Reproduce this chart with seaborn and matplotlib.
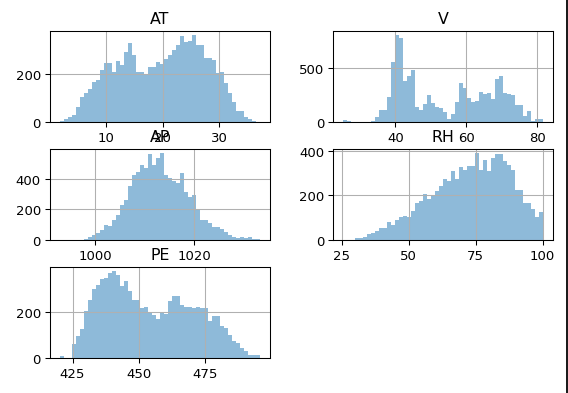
import numpy as np
import matplotlib
matplotlib.use("Agg")
import matplotlib.pyplot as plt
import seaborn as sns

# Histogram counts (50 bins per column)
at_range = (1.81, 37.11)
at_counts = [5, 14, 20, 30, 65, 103, 120, 140, 170, 176,
             217, 246, 246, 211, 258, 239, 294, 333, 280, 208,
             208, 197, 232, 232, 253, 244, 264, 280, 301, 322,
             360, 336, 339, 364, 322, 322, 267, 267, 260, 204,
             208, 163, 121, 82, 47, 47, 22, 12, 4, 2]

v_range = (25.36, 81.56)
v_counts = [18, 12, 0, 0, 0, 0, 0, 12, 45, 112,
            112, 236, 560, 803, 779, 376, 424, 482, 142, 112,
            170, 248, 176, 139, 127, 97, 30, 73, 182, 360,
            315, 224, 188, 197, 279, 255, 264, 212, 400, 424,
            270, 255, 248, 158, 158, 52, 106, 12, 24, 30]

ap_range = (992.89, 1033.30)
ap_counts = [0, 0, 0, 0, 0, 1, 9, 18, 36, 49,
             67, 100, 89, 134, 161, 228, 264, 351, 429, 447,
             489, 469, 563, 492, 536, 568, 429, 407, 389, 373,
             440, 317, 284, 295, 206, 134, 134, 112, 83, 83,
             72, 54, 31, 22, 13, 20, 13, 18, 9, 7]

rh_range = (25.56, 100.16)
rh_counts = [2, 1, 1, 9, 9, 12, 27, 33, 41, 52,
             56, 82, 68, 91, 102, 109, 102, 130, 167, 173,
             205, 185, 203, 218, 241, 273, 265, 309, 273, 329,
             314, 333, 333, 389, 314, 361, 309, 370, 388, 388,
             355, 336, 314, 226, 226, 167, 167, 139, 102, 124]

pe_range = (420.26, 495.76)
pe_counts = [7, 1, 0, 62, 94, 127, 206, 253, 302, 317,
             342, 350, 371, 377, 361, 314, 334, 292, 253, 253,
             216, 220, 199, 187, 170, 196, 190, 246, 268, 268,
             230, 223, 223, 219, 223, 219, 216, 163, 181, 181,
             138, 129, 102, 75, 66, 43, 29, 14, 14, 12]

# tick labels shown in the reference
xticks = [[10, 20, 30], [40, 60, 80], [1000, 1020], [25, 50, 75, 100], [425, 450, 475]]
yticks = [[0, 200], [0, 500], [0, 200, 400], [0, 200, 400], [0, 200]]

columns = ["AT", "V", "AP", "RH", "PE"]
ranges = [at_range, v_range, ap_range, rh_range, pe_range]
counts = [at_counts, v_counts, ap_counts, rh_counts, pe_counts]
n_bins = 50

dpi = 95
fig, axes = plt.subplots(3, 2, figsize=(568 / dpi, 394 / dpi), dpi=dpi)
fig.subplots_adjust(left=50 / 568, right=553 / 568, top=1 - 32 / 394,
                    bottom=1 - 359 / 394, wspace=0.29, hspace=0.297)

for i, ax in enumerate(axes.flat[:5]):
    lo, hi = ranges[i]
    width = (hi - lo) / n_bins
    centers = [lo + (k + 0.5) * width for k in range(n_bins)]
    sns.histplot(x=centers, weights=counts[i], bins=n_bins, binrange=ranges[i], ax=ax,
                 color="C0", alpha=0.5, linewidth=0)
    ax.set_title(columns[i], fontsize=12)
    ax.set_xlabel("")
    ax.set_ylabel("")
    ax.set_xticks(xticks[i])
    ax.set_yticks(yticks[i])
    ax.grid(True)

axes.flat[-1].remove()

# dark border on the right edge of the screenshot
fig.add_artist(plt.Line2D([567 / 568, 567 / 568], [0, 1], color="#1a1a1a", lw=1.5))

plt.savefig("out.png", dpi=dpi)
